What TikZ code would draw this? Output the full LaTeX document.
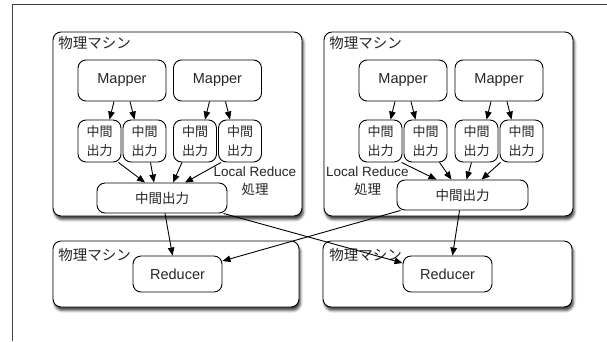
\documentclass[tikz,border=0pt]{standalone}
\usepackage{fontspec}
\setmainfont{Liberation Sans}
\newfontfamily\jpfont{Noto Sans CJK JP}
\usetikzlibrary{arrows.meta}
\usetikzlibrary{shadows.blur}
\tikzstyle{machine}=[draw, rounded corners=8pt, fill=white, inner sep=0pt, minimum width=249pt,
  blur shadow={shadow xshift=1.5pt, shadow yshift=-3.5pt, shadow blur radius=2.5pt, shadow opacity=75}]
\tikzstyle{task}=[draw, rounded corners=8pt, fill=white, inner sep=0pt, text=black!85,
  font=\fontsize{14.5}{16}\selectfont]
\tikzstyle{part}=[task, minimum width=43pt, minimum height=42pt, align=center,
  font=\jpfont\fontsize{13}{19}\selectfont]
\tikzstyle{merged}=[task, minimum width=130pt, minimum height=30pt, font=\jpfont\fontsize{13.5}{16}\selectfont]
\tikzstyle{hostname}=[anchor=west, inner sep=0pt, text=black!85, font=\jpfont\fontsize{14.5}{16}\selectfont]
\tikzstyle{note}=[align=center, inner sep=0pt, text=black!85, font=\fontsize{13.5}{18}\selectfont]
\tikzstyle{flow}=[-{Triangle[length=8pt,width=6.5pt]}]
\newcommand{\mapperpair}[2]{% Syntax: {name}{center x}, one Mapper with its two outputs
\node[task, minimum width=88pt, minimum height=41pt] (#1) at (#2,80.5) {Mapper};
\node[part] (#1a) at (#2-22.5,141) {中間\\出力};
\node[part] (#1b) at (#2+22.5,141) {中間\\出力};
\draw[flow] ([xshift=-8pt]#1.south) -- ([xshift=10pt]#1a.north);
\draw[flow] ([xshift=8pt]#1.south) -- ([xshift=-10pt]#1b.north);
}

\begin{document}
\begin{tikzpicture}[x=1pt,y=-1pt,line width=0.9pt]
	\useasboundingbox (0,0) rectangle (607,341);
	\draw[line width=1pt,black!75] (12,341) |- (607,4.5);
	% map side
	\node[machine, minimum height=184pt] (host1) at (177.5,124) {};
	\node[machine, minimum height=184pt] (host2) at (448.5,124) {};
	\node[hostname] (name1) at (58,43) {物理マシン};
	\node[hostname] (name2) at (329,43) {物理マシン};
	\mapperpair{map1}{122}
	\mapperpair{map2}{217.5}
	\mapperpair{map3}{403}
	\mapperpair{map4}{499}
	\node[merged] (local1) at (162,198) {中間出力};
	\node[merged, minimum width=131pt] (local2) at (462.5,195) {中間出力};
	\node[note] (combine1) at (255,181) {Local Reduce\\{\jpfont 処理}};
	\node[note] (combine2) at (367.5,181) {Local Reduce\\{\jpfont 処理}};
	\draw[flow] ([xshift=-3pt]map1a.south east) -- ([xshift=-17pt]local1.north);
	\draw[flow] ([xshift=6pt]map1b.south) -- ([xshift=-8pt]local1.north);
	\draw[flow] ([xshift=-13pt]map2a.south) -- ([xshift=11pt]local1.north);
	\draw[flow] ([xshift=3pt]map2b.south west) -- ([xshift=23pt]local1.north);
	\draw[flow] ([xshift=-1pt]map3a.south east) -- ([xshift=-26pt]local2.north);
	\draw[flow] ([xshift=14pt]map3b.south) -- ([xshift=-11pt]local2.north);
	\draw[flow] ([xshift=-5pt]map4a.south) -- ([xshift=4pt]local2.north);
	\draw[flow] ([xshift=1pt]map4b.south west) -- ([xshift=19pt]local2.north);
	% reduce side
	\node[machine, minimum width=246pt, minimum height=66pt] (host3) at (176,274) {};
	\node[machine, minimum height=66pt] (host4) at (447.5,274) {};
	\node[hostname] (name3) at (58,255) {物理マシン};
	\node[hostname] (name4) at (329,255) {物理マシン};
	\node[task, minimum width=89pt, minimum height=36pt] (red1) at (177.5,274) {Reducer};
	\node[task, minimum width=89pt, minimum height=36pt] (red2) at (447.5,274) {Reducer};
	\draw[flow] ([xshift=3pt]local1.south) -- ([xshift=-5pt]red1.north);
	\draw[flow] ([xshift=-4pt]local1.south east) -- ([yshift=11pt]red2.west);
	\draw[flow] ([xshift=4pt]local2.south west) -- ([yshift=13pt]red1.east);
	\draw[flow] ([xshift=-3pt]local2.south) -- ([xshift=5pt]red2.north);
\end{tikzpicture}
\end{document}
